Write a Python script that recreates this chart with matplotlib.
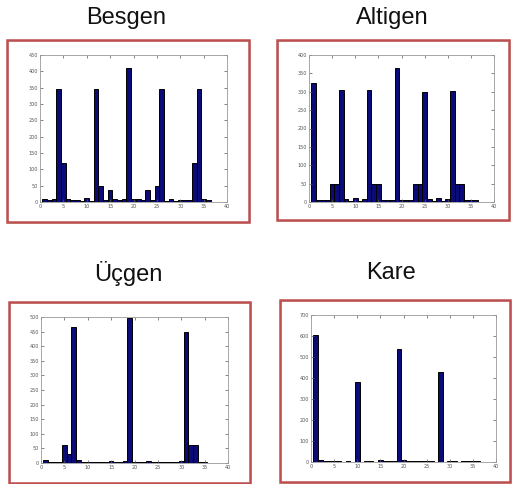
import numpy as np
import matplotlib
matplotlib.use("Agg")
import matplotlib.pyplot as plt
from matplotlib.patches import Rectangle

W, H = 514, 484

bins = list(range(1, 37))

besgen = [8, 5, 8, 345, 120, 8, 5, 5, 2, 12, 2, 345, 50, 5, 38, 8, 5, 8,
          410, 8, 8, 5, 38, 5, 48, 345, 2, 10, 2, 5, 5, 5, 120, 345, 8, 5]
altigen = [325, 5, 5, 5, 50, 50, 305, 8, 3, 10, 2, 8, 305, 50, 50, 5, 5, 5,
           365, 5, 5, 5, 50, 50, 300, 8, 3, 10, 3, 8, 302, 50, 50, 5, 5, 5]
ucgen = [10, 3, 3, 3, 60, 30, 465, 10, 3, 5, 2, 5, 3, 3, 8, 5, 2, 8,
         495, 5, 3, 5, 8, 3, 3, 2, 2, 5, 2, 8, 448, 60, 63, 5, 3, 0]
kare = [605, 8, 3, 5, 5, 5, 2, 5, 2, 383, 2, 5, 5, 2, 8, 5, 5, 5,
        540, 8, 5, 5, 5, 5, 5, 3, 2, 430, 2, 5, 5, 2, 5, 3, 5, 5]

titles = ["Besgen", "Altigen", "Üçgen", "Kare"]
series = [besgen, altigen, ucgen, kare]
ymaxes = [450, 400, 500, 700]
ysteps = [50, 50, 50, 100]

# pixel boxes: frame (x0, y0, x1, y1), axes (x0, y0, x1, y1), title centre (x, y)
frames = [(7, 40, 249, 222), (277, 40, 509, 220), (9, 302, 250, 483), (280, 300, 510, 482)]
axboxes = [(40, 55, 227, 202), (309, 55, 494, 202), (41, 317, 228, 463), (311, 315, 496, 462)]
title_pos = [(126, 18), (392, 18), (128, 273), (391, 273)]


def fx(x):
    return x / W


def fy(y):
    return 1 - y / H


fig = plt.figure(figsize=(W / 100, H / 100), dpi=100)
fig.patch.set_facecolor("white")

for i in range(4):
    # red photo frame with a soft shadow
    x0, y0, x1, y1 = frames[i]
    fig.patches.append(Rectangle((fx(x0) + 0.002, fy(y1) - 0.003), fx(x1 - x0), (y1 - y0) / H,
                                 transform=fig.transFigure, fill=False,
                                 edgecolor="#cfcfcf", lw=1.2, zorder=0))
    fig.patches.append(Rectangle((fx(x0), fy(y1)), fx(x1 - x0), (y1 - y0) / H,
                                 transform=fig.transFigure, fill=False,
                                 edgecolor="#bd4f4f", lw=1.8, zorder=1))

    ax0, ay0, ax1, ay1 = axboxes[i]
    ax = fig.add_axes([fx(ax0), fy(ay1), fx(ax1 - ax0), (ay1 - ay0) / H])
    ax.bar(bins, series[i], width=1.0, color="#0a0a78", edgecolor="black", lw=0.7)
    ax.set_xlim(0, 40)
    ax.set_ylim(0, ymaxes[i])
    ax.set_xticks(range(0, 41, 5))
    ax.set_yticks(range(0, ymaxes[i] + 1, ysteps[i]))
    ax.tick_params(direction="in", length=2, width=0.5, labelsize=3.5,
                   colors="#555555", top=True, right=True, pad=1.5)
    for s in ax.spines.values():
        s.set_color("#999999")
        s.set_linewidth(0.6)

    tx, ty = title_pos[i]
    fig.text(fx(tx), fy(ty), titles[i], ha="center", va="center",
             fontsize=17, family="Liberation Sans", color="#111111")

fig.savefig("out.png", dpi=100)
